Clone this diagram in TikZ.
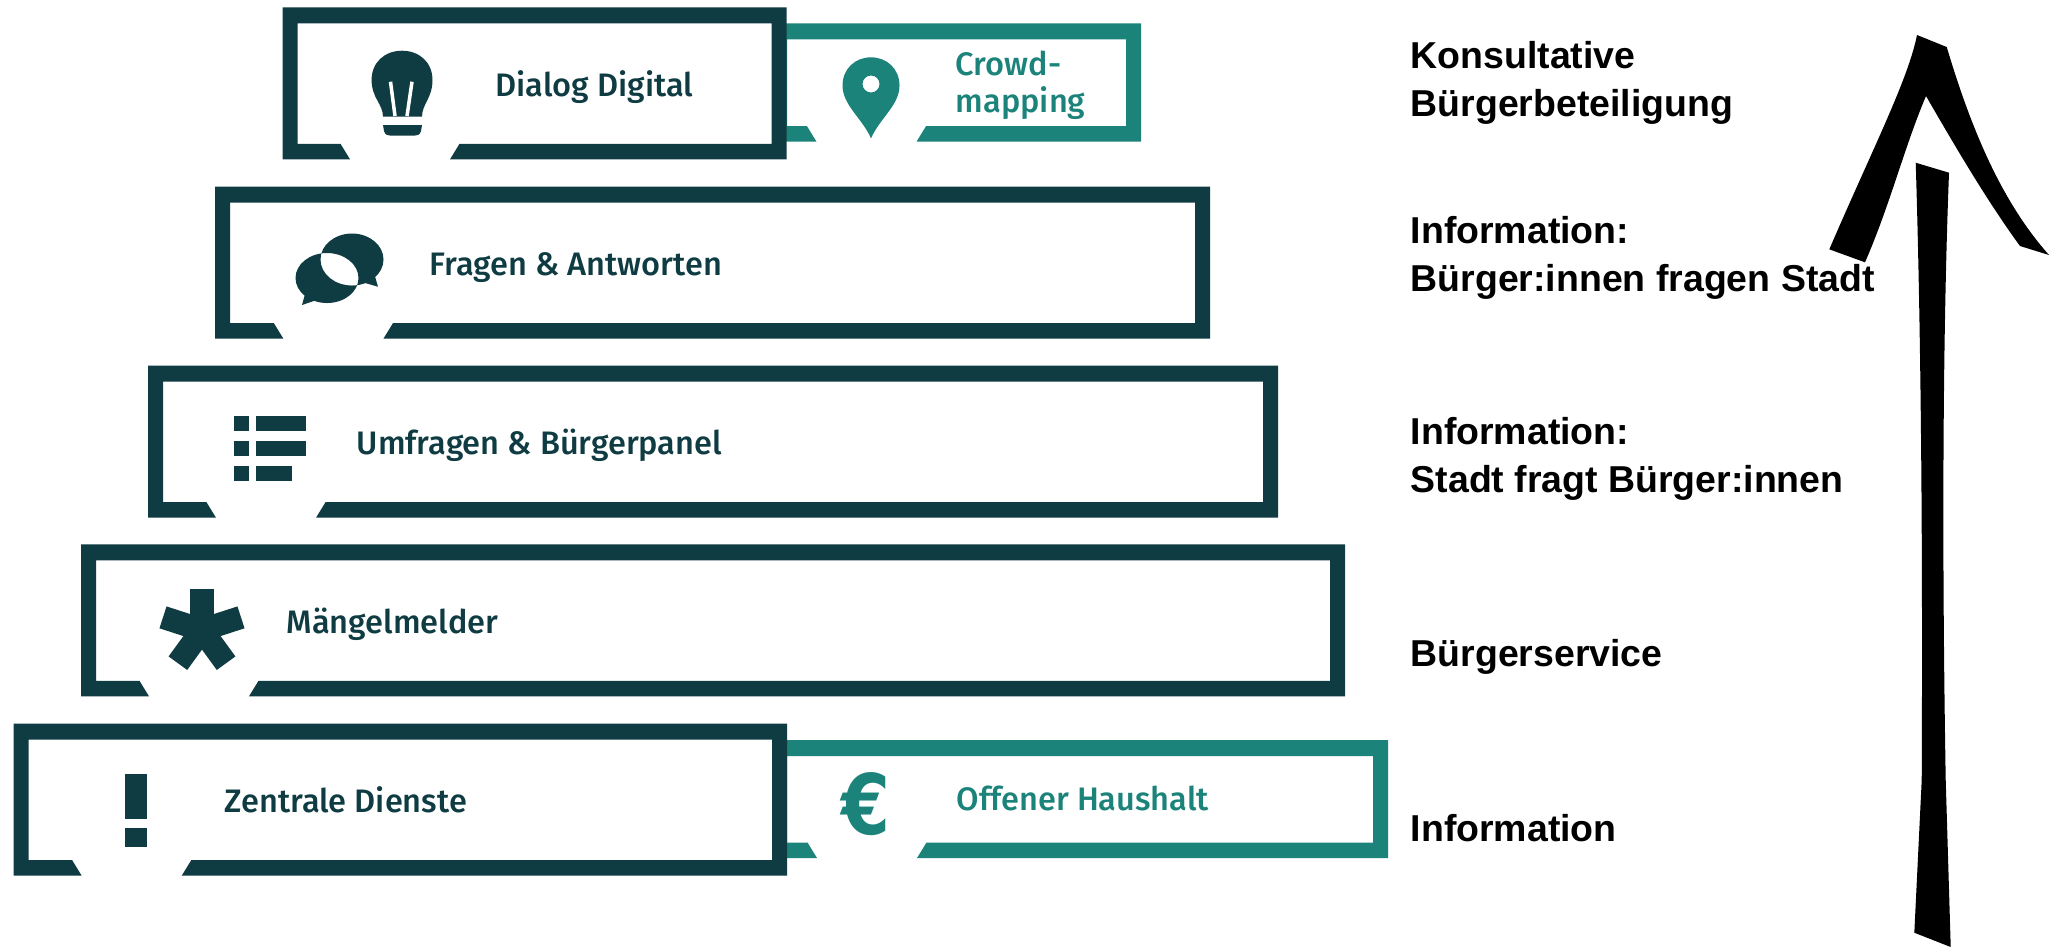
\documentclass[tikz,border=0pt]{standalone}
\usepackage{fontspec}
\usepackage{graphicx}
\setmainfont{Liberation Sans}
\newfontfamily\stufefont{Fira Sans Medium}
\usepackage{tikz}
\definecolor{stufedark}{RGB}{15,59,66}
\definecolor{stufeteal}{RGB}{28,131,123}
\tikzset{
	stufelabel/.style = {anchor=base west, inner sep=0pt, font=\stufefont\fontsize{9.25}{10.5}\selectfont, text=stufedark},
	seitelabel/.style = {anchor=base west, inner sep=0pt, font=\bfseries\fontsize{10.65}{13.6}\selectfont, align=left},
}
% x links, x rechts, y oben, Hoehe, x der Luecke, Farbe
\newcommand{\blockf}[6]{
	\fill[#6] (#5,#3+#4) -- (#1,#3+#4) -- (#1,#3) -- (#2,#3) -- (#2,#3+#4) -- (#5+100,#3+#4)
		-- (#5+109.5,#3+#4-15.5) -- (#2-15,#3+#4-15.5) -- (#2-15,#3+16) -- (#1+15,#3+16) -- (#1+15,#3+#4-15.5)
		-- (#5-9.5,#3+#4-15.5) -- cycle;
}

\begin{document}
\begin{tikzpicture}[x=0.01cm, y=-0.01cm]
		\useasboundingbox (0,0) rectangle (2049,947);

		\blockf{772}{1141}{23.3}{118.4}{816.5}{stufeteal}
		\blockf{772}{1388}{740}{118}{817}{stufeteal}

		\blockf{282.6}{786.6}{7.3}{152}{350}{stufedark}
		\blockf{215}{1210}{186.7}{152}{283.4}{stufedark}
		\blockf{148}{1278}{365.7}{152}{216}{stufedark}
		\blockf{81}{1345}{544.3}{152}{149}{stufedark}
		\blockf{13.7}{787}{723.7}{152}{81.7}{stufedark}

		% Gluehbirne
		\fill[stufedark] (383,116.7) .. controls (383,104) and (371.6,98) .. (371.6,80)
			.. controls (371.6,62) and (385,50.7) .. (402,50.7)
			.. controls (419,50.7) and (432.5,62) .. (432.5,80)
			.. controls (432.5,98) and (422,104) .. (422,116.7) -- cycle;
		\fill[stufedark] (383,125) -- (422,125) -- (421,131) .. controls (420,135) and (417,135.7) .. (414,135.7)
			-- (391,135.7) .. controls (388,135.7) and (385,135) .. (384,131) -- cycle;
		\draw[white, line width=1pt] (390.5,81.7) -- (395,116);
		\draw[white, line width=1pt] (412,81.7) -- (407,116);

		% Marker
		\fill[stufeteal, even odd rule] (871,138.3) .. controls (862,118) and (842.5,105) .. (842.5,85.5)
			.. controls (842.5,69) and (855,57.3) .. (871,57.3)
			.. controls (887,57.3) and (899.5,69) .. (899.5,85.5)
			.. controls (899.5,105) and (880,118) .. (871,138.3) -- cycle
			(871,84) circle (8.5);

		% Sprechblasen
		\fill[stufedark, even odd rule] (352,259.5) ellipse (31.5 and 26) (327,278) ellipse (31.5 and 25);
		\fill[stufedark] (305,294) -- (302,305) -- (318.6,299.3) -- cycle;
		\fill[stufedark] (374,273) -- (378,286.7) -- (360.7,281.7) -- cycle;

		% Liste
		\foreach \y/\xe in {416/306.4, 441/306.4, 466/291.8}{
			\fill[stufedark] (234.4,\y) rectangle (249,\y+14.7);
			\fill[stufedark] (256,\y) rectangle (\xe,\y+14.7);
		}

		% Stern
		\foreach \a in {-90,-18,54,126,198}
			\draw[stufedark, line width=.23cm] (202,630) -- ++(\a:41);

		% Ausrufezeichen
		\fill[stufedark] (125,774) rectangle (147.3,818.7);
		\fill[stufedark] (125,828.3) rectangle (147.3,847);

		\node[inner sep=0pt, text=stufeteal, font=\fontspec{DejaVu Sans Bold}\fontsize{25}{25}\selectfont] (euro) at (866,804) {\scalebox{.8}[.95]{€}};

		\node[stufelabel] (dialog) at (495,96.7) {Dialog Digital};
		\node[stufelabel, text=stufeteal, align=left] (crowd) at (955,112) {Crowd-\\mapping};
		\node[stufelabel] (fragen) at (429,275.7) {Fragen \& Antworten};
		\node[stufelabel] (umfragen) at (356,454) {Umfragen \& Bürgerpanel};
		\node[stufelabel] (maengel) at (286,633) {Mängelmelder};
		\node[stufelabel] (zentrale) at (224,812.7) {Zentrale Dienste};
		\node[stufelabel, text=stufeteal] (haushalt) at (956,810) {Offener Haushalt};

		\node[seitelabel] (konsultativ) at (1410,116.7) {Konsultative\\Bürgerbeteiligung};
		\node[seitelabel] (frage) at (1410,291) {Information:\\Bürger:innen fragen Stadt};
		\node[seitelabel] (stadt) at (1410,492) {Information:\\Stadt fragt Bürger:innen};
		\node[seitelabel] (service) at (1410,666.7) {Bürgerservice};
		\node[seitelabel] (info) at (1410,841.7) {Information};

		% Pfeil
		\fill (1915.7,162.7) -- (1949,172.7) .. controls (1944,300) and (1941,500) .. (1945.7,780)
			-- (1950.7,947) -- (1914.3,932.7) -- (1921.7,780) .. controls (1923,500) and (1920,300) .. (1915.7,162.7) -- cycle;
		\fill (1917,35) -- (1946.7,47) .. controls (1970,125) and (2000,200) .. (2049,255)
			-- (2020,246) .. controls (1990,205) and (1960,155) .. (1926,96)
			.. controls (1905,145) and (1890,205) .. (1865,262.3)
			-- (1829.3,249.3) .. controls (1872,150) and (1908,80) .. (1917,35) -- cycle;
	\end{tikzpicture}
\end{document}
